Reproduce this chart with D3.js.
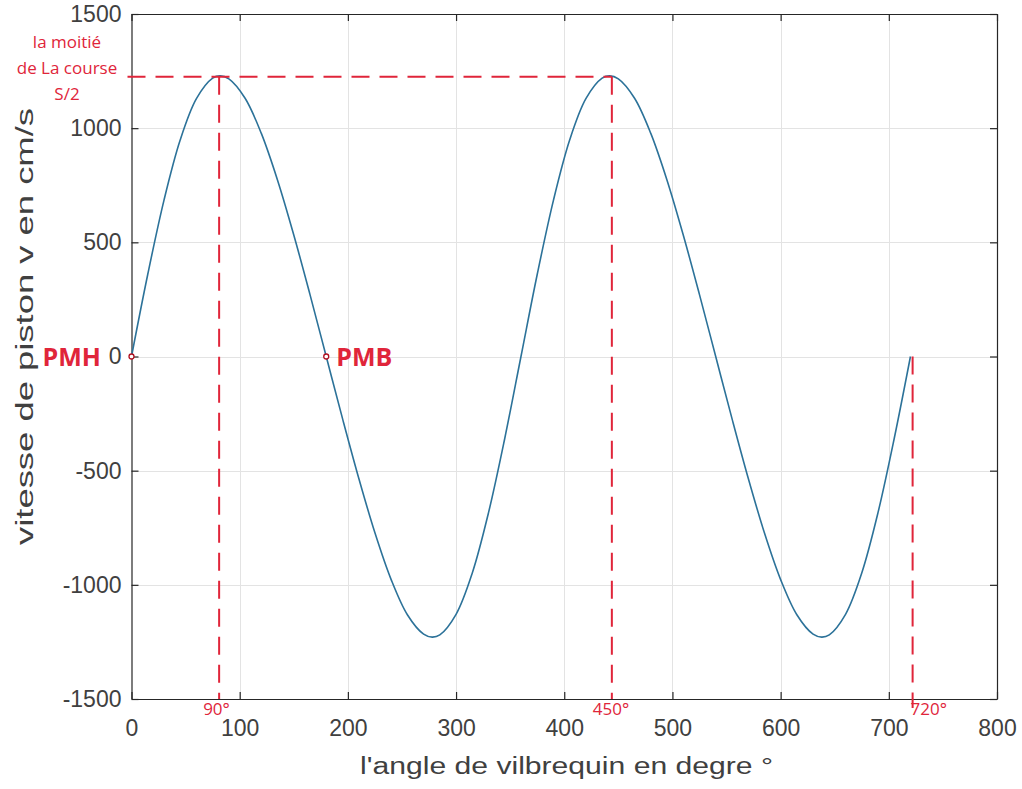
<!DOCTYPE html>
<html>
<head>
<meta charset="utf-8">
<script src="https://cdn.jsdelivr.net/npm/d3@7"></script>
<style>
  body { margin: 0; background: #fff; }
  svg { display: block; }
</style>
</head>
<body>
<svg id="chart" width="1022" height="789"></svg>
<script>
// crank angle (deg) and piston velocity (cm/s)
const angles = [0, 15, 30, 45, 60, 75, 82, 90, 105, 120, 135, 150, 165, 180,
  195, 210, 225, 240, 255, 270, 278, 285, 300, 315, 330, 345, 360,
  375, 390, 405, 420, 435, 442, 450, 465, 480, 495, 510, 525, 540,
  555, 570, 585, 600, 615, 630, 638, 645, 660, 675, 690, 705, 720];
const velocity = [0, 359, 684, 948, 1129, 1219, 1229, 1216, 1131, 977, 772, 532, 271, 0,
  -271, -532, -772, -977, -1131, -1216, -1229, -1219, -1129, -948, -684, -359, 0,
  359, 684, 948, 1129, 1219, 1229, 1216, 1131, 977, 772, 532, 271, 0,
  -271, -532, -772, -977, -1131, -1216, -1229, -1219, -1129, -948, -684, -359, 0];

const xTicks = [0, 100, 200, 300, 400, 500, 600, 700, 800];
const yTicks = [-1500, -1000, -500, 0, 500, 1000, 1500];

// red annotations
const halfStroke = 1225;
const guideAngles = [81, 444, 722];
const guideLabels = ["90°", "450°", "720°"];
const deadCentres = [{ a: 0, name: "PMH" }, { a: 180, name: "PMB" }];

const plotLeft = 131.5, plotRight = 997, plotTop = 14, plotBottom = 699;

const svg = d3.select("#chart");
const x = d3.scaleLinear().domain([0, 800]).range([plotLeft, plotRight]);
const y = d3.scaleLinear().domain([-1500, 1500]).range([plotBottom, plotTop]);

const axisColor = "#262626";
const labelColor = "#404040";
const red = "#e0253a";

// grid
const grid = svg.append("g").attr("stroke", "#e3e3e3").attr("stroke-width", 1);
grid.selectAll("line.vx").data(xTicks.slice(1, -1)).join("line")
  .attr("x1", d => Math.round(x(d)) + 0.5).attr("x2", d => Math.round(x(d)) + 0.5)
  .attr("y1", plotTop).attr("y2", plotBottom);
grid.selectAll("line.hy").data(yTicks.slice(1, -1)).join("line")
  .attr("y1", d => Math.round(y(d)) + 0.5).attr("y2", d => Math.round(y(d)) + 0.5)
  .attr("x1", plotLeft).attr("x2", plotRight);

// axes, MATLAB style: ticks point inward, box on
const fontAx = "'Liberation Sans', Arial, sans-serif";
const plain = d => String(d);
const bottomAxis = svg.append("g").attr("transform", `translate(0,${plotBottom})`)
  .call(d3.axisBottom(x).tickValues(xTicks).tickFormat(plain)
    .tickSizeInner(-7).tickSizeOuter(0).tickPadding(21));
const leftAxis = svg.append("g").attr("transform", `translate(${plotLeft},0)`)
  .call(d3.axisLeft(y).tickValues(yTicks).tickFormat(plain)
    .tickSizeInner(-7).tickSizeOuter(0).tickPadding(10));
const topAxis = svg.append("g").attr("transform", `translate(0,${plotTop})`)
  .call(d3.axisTop(x).tickValues(xTicks).tickSizeInner(-7).tickSizeOuter(0).tickFormat(""));
const rightAxis = svg.append("g").attr("transform", `translate(${plotRight},0)`)
  .call(d3.axisRight(y).tickValues(yTicks).tickSizeInner(-7).tickSizeOuter(0).tickFormat(""));

[bottomAxis, leftAxis, topAxis, rightAxis].forEach(g => {
  g.select(".domain").attr("stroke", axisColor).attr("stroke-width", 1.2);
  g.selectAll(".tick line").attr("stroke", axisColor).attr("stroke-width", 1.2);
  g.selectAll(".tick text").attr("fill", labelColor)
    .style("font-family", fontAx).style("font-size", "23px");
});

// curve
const line = d3.line()
  .x((d, i) => x(angles[i]))
  .y(d => y(d))
  .curve(d3.curveCatmullRom);

svg.append("path")
  .datum(velocity)
  .attr("fill", "none")
  .attr("stroke", "#2c7299")
  .attr("stroke-width", 1.6)
  .attr("d", line);

// axis labels (reference text is drawn wide, so stretch to its measured length)
svg.append("text")
  .attr("x", 360).attr("y", 774)
  .attr("textLength", 413).attr("lengthAdjust", "spacingAndGlyphs")
  .attr("fill", labelColor)
  .style("font-family", fontAx).style("font-size", "23px")
  .text("l'angle de vilbrequin en degre  °");

svg.append("text")
  .attr("transform", "translate(33,545) rotate(-90)")
  .attr("x", 0).attr("y", 0)
  .attr("textLength", 437).attr("lengthAdjust", "spacingAndGlyphs")
  .attr("fill", labelColor)
  .style("font-family", fontAx).style("font-size", "23px")
  .text("vitesse  de piston v en cm/s");

// red dashed guides
const guides = svg.append("g")
  .attr("stroke", red).attr("stroke-width", 2).attr("stroke-dasharray", "18,10")
  .attr("fill", "none");
guides.append("line")
  .attr("x1", plotLeft - 4).attr("x2", x(guideAngles[1]))
  .attr("y1", y(halfStroke)).attr("y2", y(halfStroke));
guides.selectAll("line.v").data(guideAngles).join("line")
  .attr("x1", d => x(d)).attr("x2", d => x(d))
  .attr("y1", (d, i) => i < 2 ? y(halfStroke) : y(0))
  .attr("y2", (d, i) => i < 2 ? plotBottom : plotBottom + 9);

const fontRed = "'Open Sans', 'Noto Sans', sans-serif";
svg.append("g").selectAll("text").data(guideLabels).join("text")
  .attr("x", (d, i) => x(guideAngles[i]) + [-16, -19, -2][i])
  .attr("y", 715)
  .attr("fill", red)
  .style("font-family", fontRed).style("font-size", "17px")
  .text(d => d);

svg.append("g").selectAll("text")
  .data(["la moitié", "de La course", "S/2"]).join("text")
  .attr("x", 67).attr("y", (d, i) => 48 + i * 26)
  .attr("text-anchor", "middle")
  .attr("fill", red)
  .style("font-family", fontRed).style("font-size", "17px")
  .text(d => d);

// dead centre markers
svg.append("g").selectAll("circle").data(deadCentres).join("circle")
  .attr("cx", d => x(d.a)).attr("cy", y(0)).attr("r", 2.5)
  .attr("fill", "#fff").attr("stroke", "#b01020").attr("stroke-width", 1.3);

svg.append("g").selectAll("text").data(deadCentres).join("text")
  .attr("x", d => d.a === 0 ? 101 : x(d.a) + 10)
  .attr("y", y(0) + 9)
  .attr("text-anchor", d => d.a === 0 ? "end" : "start")
  .attr("fill", red)
  .style("font-family", fontRed).style("font-size", "25px").style("font-weight", "bold")
  .text(d => d.name);
</script>
</body>
</html>
